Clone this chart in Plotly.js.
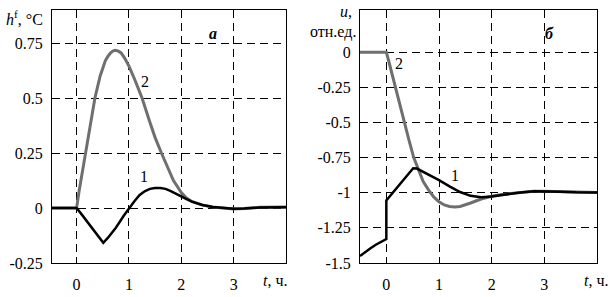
<!DOCTYPE html>
<html>
<head>
<meta charset="utf-8">
<script src="https://cdn.plot.ly/plotly-3.0.1.min.js"></script>
<style>html,body{margin:0;padding:0;background:#fff;}#chart{width:614px;height:297px;}</style>
</head>
<body>
<div id="chart"></div>
<script>
// ---- data ----
// panel а : h^f, °C
const tA1 = [-0.47, 0, 0.1, 0.25, 0.4, 0.51, 0.6, 0.75, 0.9, 1.0, 1.1, 1.2, 1.3, 1.4, 1.5, 1.6, 1.7, 1.8, 1.9, 2.0, 2.1, 2.2, 2.4, 2.6, 2.8, 3.0, 3.2, 3.5, 4.0];
const hA1 = [0, 0, -0.03, -0.078, -0.125, -0.158, -0.135, -0.09, -0.035, 0, 0.03, 0.058, 0.076, 0.087, 0.091, 0.091, 0.087, 0.077, 0.064, 0.052, 0.04, 0.029, 0.014, 0.005, 0.0, -0.003, -0.002, 0.002, 0.003];
const tA2 = [-0.47, 0, 0.05, 0.1, 0.18, 0.27, 0.35, 0.45, 0.55, 0.6, 0.65, 0.7, 0.74, 0.8, 0.85, 0.92, 1.0, 1.1, 1.25, 1.4, 1.5, 1.62, 1.75, 1.85, 2.0, 2.1, 2.2, 2.4, 2.6, 2.8, 3.0, 3.2, 3.5, 4.0];
const hA2 = [0, 0, 0.08, 0.15, 0.25, 0.38, 0.5, 0.6, 0.67, 0.69, 0.705, 0.714, 0.717, 0.713, 0.705, 0.68, 0.645, 0.59, 0.5, 0.39, 0.32, 0.25, 0.175, 0.125, 0.07, 0.045, 0.03, 0.014, 0.005, 0.0, -0.004, -0.002, 0.003, 0.004];
// panel б : u, отн.ед.
const tB1 = [-0.5, -0.4, -0.3, -0.2, -0.1, 0, 0, 0.12, 0.25, 0.4, 0.51, 0.58, 0.7, 0.85, 1.0, 1.2, 1.4, 1.6, 1.8, 2.0, 2.2, 2.5, 2.8, 3.0, 3.3, 3.6, 4.0];
const uB1 = [-1.45, -1.42, -1.395, -1.37, -1.35, -1.33, -1.055, -1.0, -0.94, -0.87, -0.826, -0.828, -0.85, -0.88, -0.91, -0.955, -0.995, -1.022, -1.033, -1.027, -1.015, -1.0, -0.99, -0.99, -0.993, -0.997, -0.998];
const tB2 = [-0.5, 0, 0.05, 0.1, 0.17, 0.25, 0.34, 0.43, 0.52, 0.6, 0.7, 0.8, 0.9, 1.0, 1.1, 1.2, 1.3, 1.4, 1.5, 1.6, 1.8, 2.0, 2.2, 2.5, 2.8, 3.0, 3.3, 3.6, 4.0];
const uB2 = [0, 0, -0.07, -0.145, -0.25, -0.375, -0.5, -0.625, -0.75, -0.83, -0.92, -0.98, -1.03, -1.065, -1.087, -1.098, -1.102, -1.098, -1.088, -1.073, -1.045, -1.025, -1.012, -1.0, -0.99, -0.99, -0.993, -0.997, -0.998];
// tick labels
const xTicks = [0, 1, 2, 3];
const xTickText = ["0", "1", "2", "3"];
const yTicksA = [-0.25, 0, 0.25, 0.5, 0.75];
const yTickTextA = ["-0.25", "0", "0.25", "0.5", "0.75"];
const yTicksB = [0, -0.25, -0.5, -0.75, -1, -1.25, -1.5];
const yTickTextB = ["0", "-0.25", "-0.5", "-0.75", "-1", "-1.25", "-1.5"];

const FONT = "Liberation Serif";
const FS = 16;
const GRAY = "#6f6f6f";

const traces = [
  {x: tA2, y: hA2, xaxis: "x", yaxis: "y", mode: "lines", line: {color: GRAY, width: 3}},
  {x: tA1, y: hA1, xaxis: "x", yaxis: "y", mode: "lines", line: {color: "#000", width: 2.5}},
  {x: tB2, y: uB2, xaxis: "x2", yaxis: "y2", mode: "lines", line: {color: GRAY, width: 3}},
  {x: tB1, y: uB1, xaxis: "x2", yaxis: "y2", mode: "lines", line: {color: "#000", width: 2.5}}
];

function xax(domain, range, anchor) {
  return {domain: domain, range: range, anchor: anchor, tickmode: "array", tickvals: xTicks, ticktext: xTickText,
    showgrid: true, gridcolor: "#000", gridwidth: 1, griddash: "8px,5px", zeroline: false,
    showline: true, mirror: true, linecolor: "#000", linewidth: 1, ticks: "", ticklabelstandoff: 7,
    tickfont: {family: FONT, size: FS, color: "#000"}, fixedrange: true};
}
function yax(domain, range, anchor, tv, tt) {
  return {domain: domain, range: range, anchor: anchor, tickmode: "array", tickvals: tv, ticktext: tt,
    showgrid: true, gridcolor: "#000", gridwidth: 1, griddash: "8px,5px", zeroline: false,
    showline: true, mirror: true, linecolor: "#000", linewidth: 1, ticks: "", ticklabelstandoff: 5,
    tickfont: {family: FONT, size: FS, color: "#000"}, fixedrange: true};
}

const ann = (text, x, y, xref, yref, xanchor, yanchor) => ({
  text: text, x: x, y: y, xref: xref, yref: yref, xanchor: xanchor, yanchor: yanchor, showarrow: false,
  font: {family: FONT, size: FS, color: "#000"}});

const layout = {
  width: 614, height: 297,
  font: {family: FONT, size: FS, color: "#000"},
  margin: {l: 0, r: 0, t: 10, b: 34, pad: 0},
  paper_bgcolor: "#fff", plot_bgcolor: "#fff",
  showlegend: false,
  xaxis: xax([52/614, 286/614], [-0.47, 4.0], "y"),
  yaxis: yax([0, 1], [-0.25, 0.9], "x", yTicksA, yTickTextA),
  xaxis2: xax([360/614, 597/614], [-0.5, 4.0], "y2"),
  yaxis2: yax([0, 1], [-1.5, 0.3], "x2", yTicksB, yTickTextB),
  annotations: [
    ann("<i>h</i><sup>f</sup>, °C", 45/614, (263-18)/253, "paper", "paper", "right", "middle"),
    ann("<b><i>а</i></b>", 213/614, (263-33)/253, "paper", "paper", "center", "middle"),
    ann("<i>t</i>, ч.", 275/614, (263-280)/253, "paper", "paper", "center", "middle"),
    ann("<i>u</i>,", 354/614, (263-12)/253, "paper", "paper", "right", "middle"),
    ann("отн.ед.", 358/614, (263-32)/253, "paper", "paper", "right", "middle"),
    ann("<b><i>б</i></b>", 549/614, (263-33)/253, "paper", "paper", "center", "middle"),
    ann("<i>t</i>, ч.", 596/614, (263-280)/253, "paper", "paper", "center", "middle"),
    ann("2", 1.31, 0.576, "x", "y", "center", "middle"),
    ann("1", 1.29, 0.141, "x", "y", "center", "middle"),
    ann("2", 0.24, -0.08, "x2", "y2", "center", "middle"),
    ann("1", 1.30, -0.876, "x2", "y2", "center", "middle")
  ]
};

Plotly.newPlot("chart", traces, layout, {staticPlot: true, displayModeBar: false});
</script>
</body>
</html>
